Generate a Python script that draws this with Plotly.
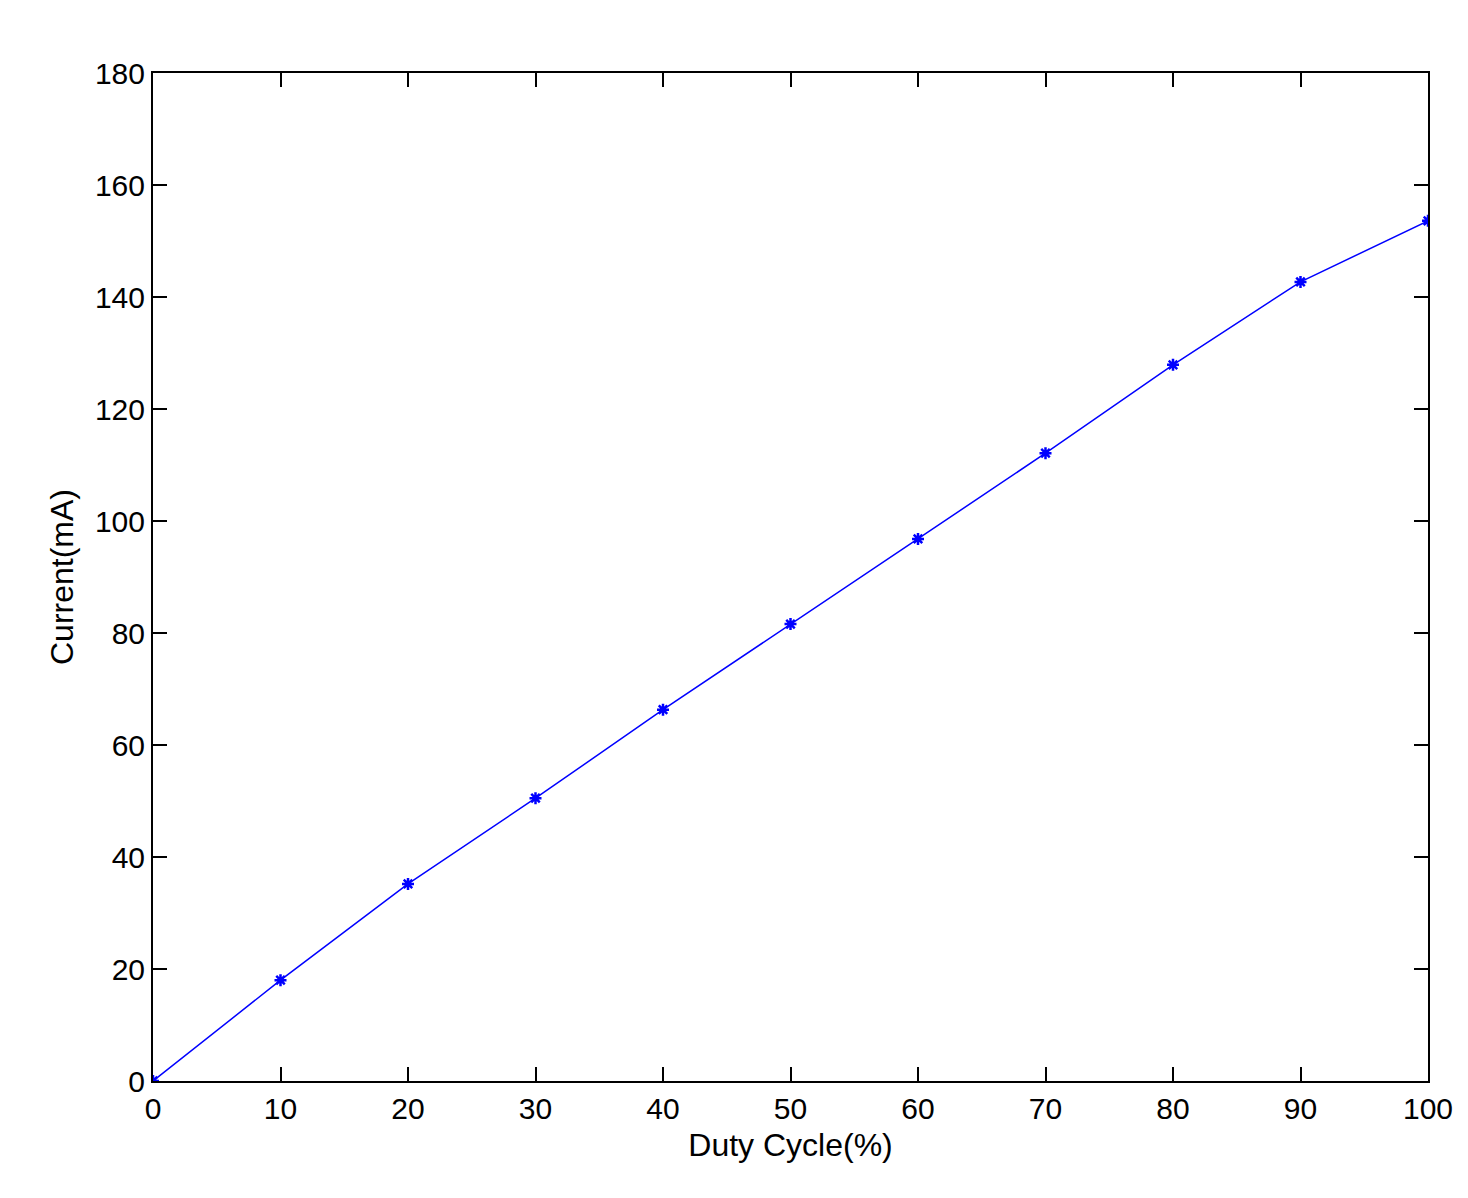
import plotly.graph_objects as go

duty = [0, 10, 20, 30, 40, 50, 60, 70, 80, 90, 100]
current = [0, 18.0, 35.2, 50.5, 66.3, 81.6, 96.8, 112.1, 127.9, 142.7, 153.6]

fig = go.Figure(go.Scatter(x=duty, y=current, mode="lines+markers",
    line=dict(color="#0000ff", width=1.5),
    marker=dict(symbol="asterisk-open", size=10, color="#0000ff", line=dict(width=2.5, color="#0000ff"))))

ax = dict(showgrid=False, zeroline=False, showline=True, linecolor="black", linewidth=2,
          mirror="ticks", ticks="inside", ticklen=14, tickwidth=1.5, tickcolor="black",
          tickfont=dict(family="Liberation Sans", size=30, color="black"))
fig.update_xaxes(**ax, range=[0, 100], dtick=10,
                 title=dict(text="Duty Cycle(%)", font=dict(family="Liberation Sans", size=32, color="black"), standoff=10))
fig.update_yaxes(**ax, range=[0, 180], dtick=20,
                 title=dict(text="Current(mA)", font=dict(family="Liberation Sans", size=32, color="black"), standoff=12))
fig.update_layout(width=1468, height=1198, margin=dict(l=145, r=48, t=65, b=125),
                  plot_bgcolor="white", paper_bgcolor="white", showlegend=False)
fig.write_html("out.html")
